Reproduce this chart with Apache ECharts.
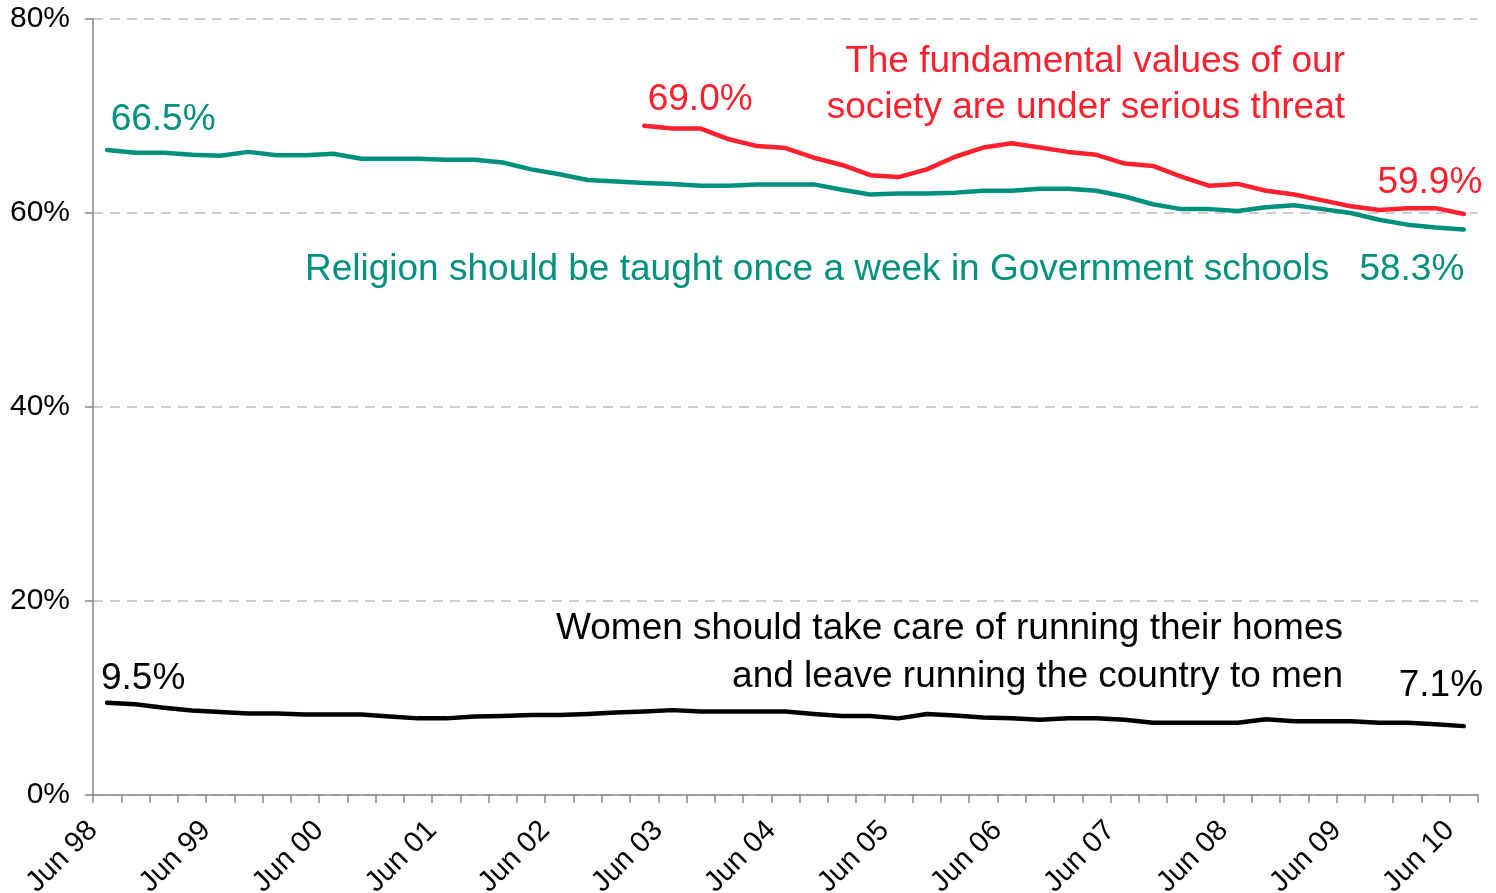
<!DOCTYPE html>
<html><head><meta charset="utf-8">
<script src="https://cdn.jsdelivr.net/npm/echarts@6/dist/echarts.min.js"></script>
<style>html,body{margin:0;padding:0;background:#fff}#c{width:1496px;height:893px}</style>
</head><body><div id="c"></div>
<script>
// Survey periods (quarterly, mid-month)
const surveyPeriods = ['Jul 98','Oct 98','Jan 99','Apr 99','Jul 99','Oct 99','Jan 00','Apr 00','Jul 00','Oct 00',
  'Jan 01','Apr 01','Jul 01','Oct 01','Jan 02','Apr 02','Jul 02','Oct 02','Jan 03','Apr 03','Jul 03','Oct 03',
  'Jan 04','Apr 04','Jul 04','Oct 04','Jan 05','Apr 05','Jul 05','Oct 05','Jan 06','Apr 06','Jul 06','Oct 06',
  'Jan 07','Apr 07','Jul 07','Oct 07','Jan 08','Apr 08','Jul 08','Oct 08','Jan 09','Apr 09','Jul 09','Oct 09',
  'Jan 10','Apr 10','Jul 10'];

// X axis tick labels (each June)
const yearTickLabels = ['Jun 98','Jun 99','Jun 00','Jun 01','Jun 02','Jun 03','Jun 04','Jun 05','Jun 06','Jun 07','Jun 08','Jun 09','Jun 10'];
const yTickLabels = ['0%','20%','40%','60%','80%'];

// Series values (%)
const religionValues = [66.5,66.2,66.2,66.0,65.9,66.3,65.95,65.95,66.1,65.6,65.6,65.6,65.5,65.5,65.2,64.5,64.0,
  63.4,63.25,63.1,63.0,62.8,62.8,62.95,62.95,62.95,62.4,61.9,62.0,62.0,62.1,62.3,
  62.3,62.5,62.5,62.3,61.7,60.9,60.4,60.4,60.2,60.6,60.8,60.4,60.0,59.3,58.8,58.5,58.3];
const valuesThreatValues = [null,null,null,null,null,null,null,null,null,null,null,null,null,null,null,null,null,null,null,
  69.0,68.7,68.7,67.6,66.9,66.7,65.7,64.95,63.9,63.7,64.5,65.8,66.75,67.2,
  66.75,66.3,66.0,65.1,64.85,63.75,62.8,63.0,62.3,61.9,61.3,60.7,60.3,60.5,60.5,59.9];
const womenValues = [9.5,9.35,9.0,8.7,8.55,8.4,8.4,8.3,8.3,8.3,8.1,7.9,7.9,8.1,8.15,8.25,8.25,
  8.35,8.5,8.6,8.75,8.6,8.6,8.6,8.6,8.35,8.15,8.15,7.9,8.35,8.2,8.0,
  7.9,7.75,7.9,7.9,7.75,7.45,7.45,7.45,7.45,7.8,7.6,7.6,7.6,7.45,7.45,7.3,7.1];

const MON = {Jan:1,Feb:2,Mar:3,Apr:4,May:5,Jun:6,Jul:7,Aug:8,Sep:9,Oct:10,Nov:11,Dec:12};
// months since Jun 1998 (mid-month)
function periodToX(p){
  const [m, y] = p.split(' ');
  const yr = +y < 50 ? 2000 + +y : 1900 + +y;
  return (yr - 1998) * 12 + (MON[m] - 6) + 0.5;
}

const FONT = '"Liberation Sans", Arial, sans-serif';
const TEAL = '#00917E', RED = '#FF1F2D', BLACK = '#000000';
const ANN = 37;

function buildData(values, firstOffset, lastOffset, color){
  let first = values.findIndex(v => v != null);
  let last = values.length - 1;
  return values.map((v, i) => {
    const item = { value: [periodToX(surveyPeriods[i]), v] };
    if (v != null && (i === first || i === last)) {
      item.label = {
        show: true, position: 'inside',
        offset: i === first ? firstOffset : lastOffset,
        formatter: p => p.value[1].toFixed(1) + '%',
        color: color, fontSize: ANN, fontFamily: FONT
      };
    }
    return item;
  });
}

function lineSeries(name, values, color, firstOff, lastOff){
  return {
    name, type: 'line',
    data: buildData(values, firstOff, lastOff, color),
    symbol: 'circle', symbolSize: 1, showSymbol: true, showAllSymbol: true,
    itemStyle: { color: 'rgba(0,0,0,0)', borderWidth: 0 },
    lineStyle: { color: color, width: 4.5, join: 'round', cap: 'round' },
    label: { show: false },
    connectNulls: false, silent: true, animation: false, z: 3
  };
}

const chart = echarts.init(document.getElementById('c'), null, {renderer: 'canvas'});
chart.setOption({
  backgroundColor: '#fff',
  animation: false,
  grid: { left: 93, right: 18, top: 19, bottom: 98, containLabel: false, outerBoundsMode: 'none' },
  xAxis: {
    type: 'value', min: 0, max: 147, interval: 3,
    axisLine: { show: true, lineStyle: { color: '#868686', width: 1.5 } },
    axisTick: { show: true, inside: false, length: 8, lineStyle: { color: '#868686', width: 1.5 } },
    splitLine: { show: false },
    axisLabel: {
      rotate: 45, margin: 31, fontSize: 29, color: '#000', fontFamily: FONT,
      showMinLabel: true, showMaxLabel: true, hideOverlap: false,
      formatter: v => (v % 12 === 0 ? (yearTickLabels[v / 12] || '') : '')
    }
  },
  yAxis: {
    type: 'value', min: 0, max: 80, interval: 20,
    axisLine: { show: true, lineStyle: { color: '#868686', width: 1.5 } },
    axisTick: { show: true, inside: false, length: 8, lineStyle: { color: '#868686', width: 1.5 } },
    splitLine: { show: true, lineStyle: { color: '#BFBFBF', width: 1.5, type: [10, 7] } },
    axisLabel: { margin: 23, fontSize: 30, color: '#000', fontFamily: FONT,
      formatter: v => yTickLabels[v / 20] }
  },
  series: [
    lineSeries('Religion should be taught once a week in Government schools', religionValues, TEAL, [56, -30], [-52, 40]),
    lineSeries('The fundamental values of our society are under serious threat', valuesThreatValues, RED, [56, -26], [-34, -31]),
    lineSeries('Women should take care of running their homes and leave running the country to men', womenValues, BLACK, [36, -24], [-23, -40])
  ],
  graphic: [
    { type: 'text', x: 1345, y: 62, style: { text: 'The fundamental values of our', fill: RED, font: ANN + 'px ' + FONT, textAlign: 'right', textVerticalAlign: 'middle' } },
    { type: 'text', x: 1345, y: 108, style: { text: 'society are under serious threat', fill: RED, font: ANN + 'px ' + FONT, textAlign: 'right', textVerticalAlign: 'middle' } },
    { type: 'text', x: 305, y: 270, style: { text: 'Religion should be taught once a week in Government schools', fill: TEAL, font: ANN + 'px ' + FONT, textAlign: 'left', textVerticalAlign: 'middle' } },
    { type: 'text', x: 1343, y: 629, style: { text: 'Women should take care of running their homes', fill: BLACK, font: ANN + 'px ' + FONT, textAlign: 'right', textVerticalAlign: 'middle' } },
    { type: 'text', x: 1343, y: 677, style: { text: 'and leave running the country to men', fill: BLACK, font: ANN + 'px ' + FONT, textAlign: 'right', textVerticalAlign: 'middle' } }
  ]
});
</script></body></html>
